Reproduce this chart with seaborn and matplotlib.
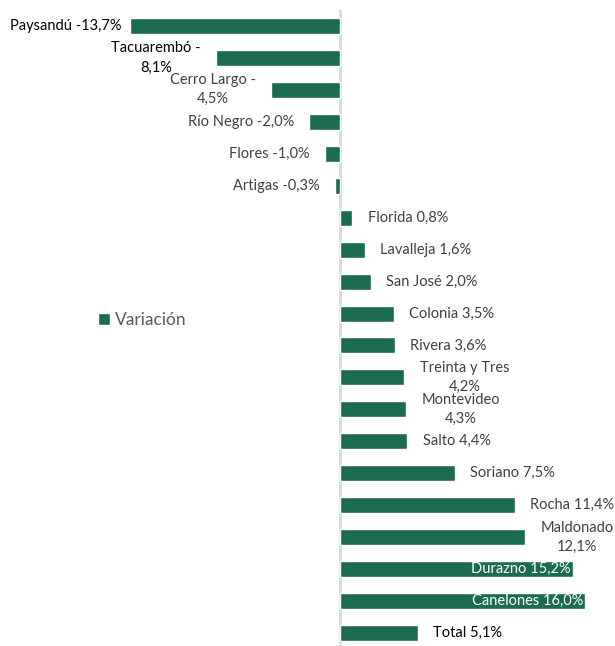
import pandas as pd
import numpy as np
import matplotlib.pyplot as plt
import seaborn as sns

# Data
departamentos = ["Paysandú", "Tacuarembó", "Cerro Largo", "Río Negro", "Flores", "Artigas",
                 "Florida", "Lavalleja", "San José", "Colonia", "Rivera", "Treinta y Tres",
                 "Montevideo", "Salto", "Soriano", "Rocha", "Maldonado", "Durazno",
                 "Canelones", "Total"]
variacion = [-13.7, -8.1, -4.5, -2.0, -1.0, -0.3, 0.8, 1.6, 2.0, 3.5, 3.6, 4.2,
             4.3, 4.4, 7.5, 11.4, 12.1, 15.2, 16.0, 5.1]

# label styling groups
wrapped = {"Tacuarembó", "Cerro Largo", "Treinta y Tres", "Montevideo", "Maldonado"}
inside = {"Durazno", "Canelones"}
dark_text = {"Paysandú", "Tacuarembó", "Total"}

GREEN = "#1b6b50"
px_per_unit = 15.33
FS = 10.5

df = pd.DataFrame({"Departamento": departamentos, "Variación": variacion})

sns.set_style("white")
plt.rcParams["font.family"] = ["Lato", "DejaVu Sans"]

fig = plt.figure(figsize=(6.15, 6.46), dpi=100)
ax = fig.add_axes([0, -3 / 646, 1, 639 / 646])

ax.axvline(0, color="#d9d9d9", lw=2, zorder=0)
sns.barplot(data=df, y="Departamento", x="Variación", orient="h", color=GREEN,
            width=0.5, saturation=1, ax=ax, label="Variación", zorder=2)

ax.set_xlim(-340 / px_per_unit, 275 / px_per_unit)
ax.set_ylim(len(departamentos) - 0.5, -0.5)
ax.axis("off")

gap_pt = 11  # ~15 px
for i, (name, val) in enumerate(zip(departamentos, variacion)):
    num = f"{val:.1f}".replace(".", ",") + "%"
    color = "#000000" if name in dark_text else "#404040"
    if name in inside:
        ax.annotate(f"{name} {num}", (val, i), xytext=(-1.5, 0), textcoords="offset points",
                    ha="right", va="center", color="white", fontsize=FS, zorder=3)
        continue
    if name in wrapped:
        txt = f"{name} -\n{num.lstrip('-')}" if val < 0 else f"{name}\n{num}"
    else:
        txt = f"{name} {num}"
    off = gap_pt if name != "Paysandú" else 6
    if val < 0:
        ax.annotate(txt, (val, i), xytext=(-off, 0), textcoords="offset points",
                    ha="right", va="center", multialignment="center",
                    color=color, fontsize=FS, linespacing=1.45)
    else:
        ax.annotate(txt, (val, i), xytext=(off, 0), textcoords="offset points",
                    ha="left", va="center", multialignment="center",
                    color=color, fontsize=FS, linespacing=1.45)

leg = ax.legend(loc="center left", bbox_to_anchor=(82 / 615, 1 - 320 / 646),
                bbox_transform=fig.transFigure, frameon=False, fontsize=12.5,
                handlelength=0.7, handleheight=0.7, handletextpad=0.3)
for t in leg.get_texts():
    t.set_color("#595959")

fig.savefig("out.png", dpi=100)
